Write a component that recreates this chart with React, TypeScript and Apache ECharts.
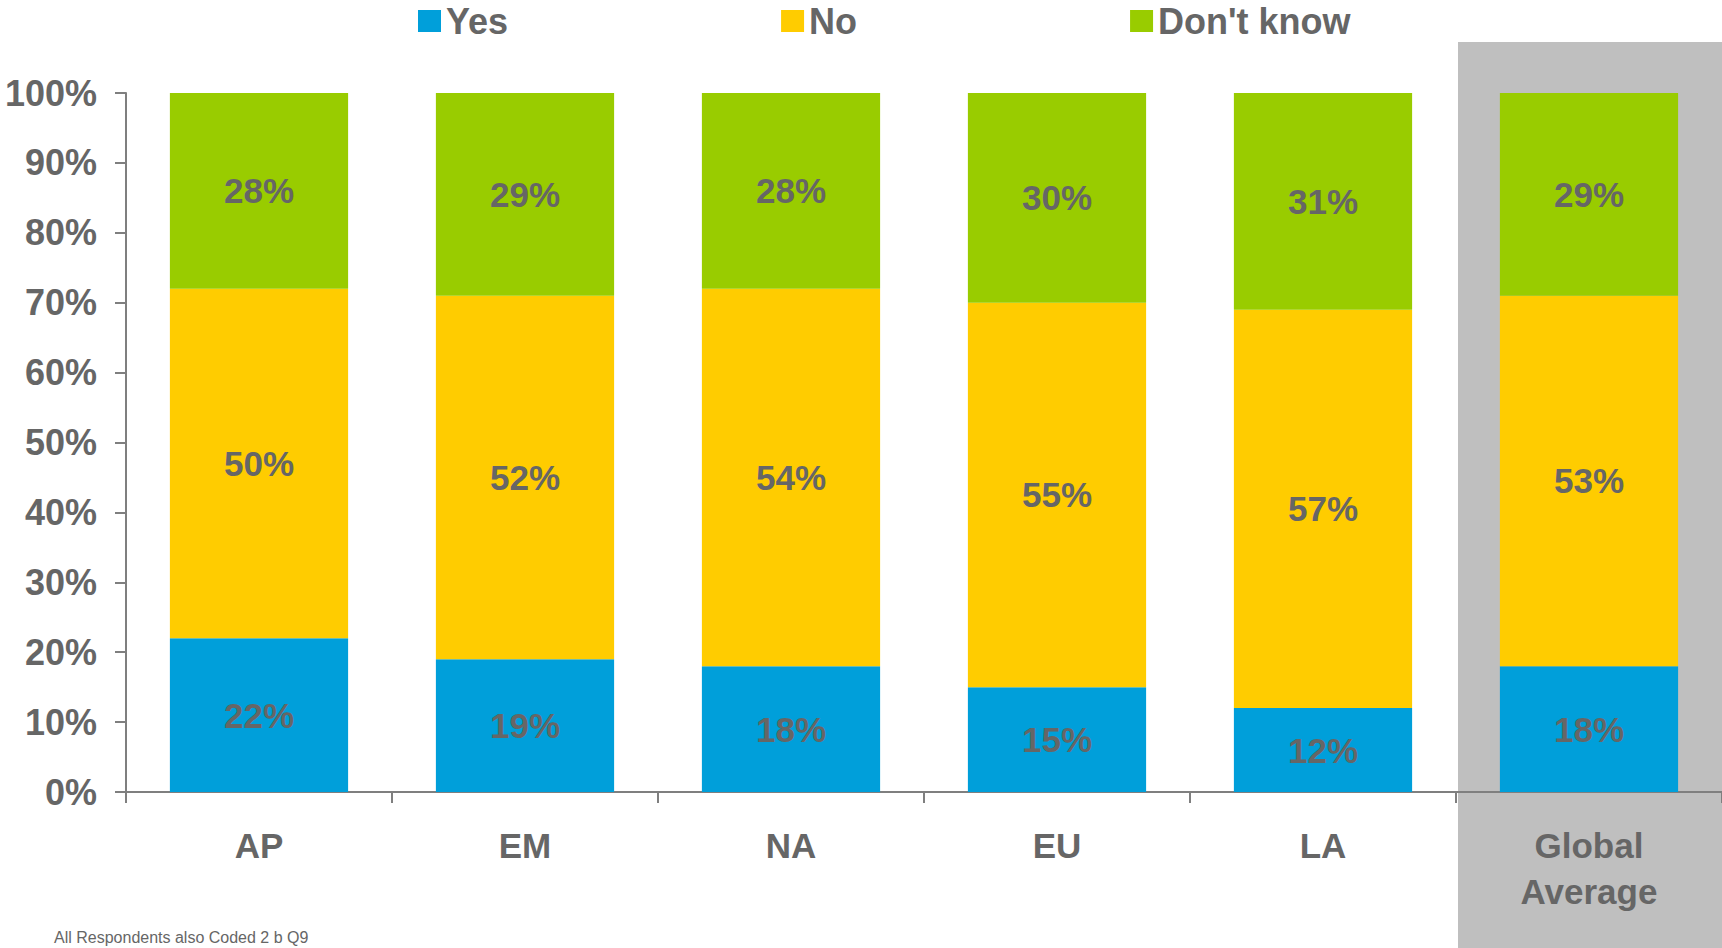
import React, { useEffect, useRef } from "react";
import * as echarts from "echarts";

const categories = ["AP", "EM", "NA", "EU", "LA", "Global\nAverage"];
const yesValues = [22, 19, 18, 15, 12, 18];
const noValues = [50, 52, 54, 55, 57, 53];
const dontKnowValues = [28, 29, 28, 30, 31, 29];
const seriesNames = ["Yes", "No", "Don't know"];
const seriesColors = ["#009FDA", "#FFCC00", "#99CC00"];
const footnote = "All Respondents also Coded 2 b Q9";

const FONT = "'Liberation Sans', Arial, sans-serif";
const TEXT = "#666666";
const AXIS = "#7F7F7F";

export default function App() {
  const ref = useRef<HTMLDivElement>(null);

  useEffect(() => {
    if (!ref.current) return;
    const chart = echarts.init(ref.current, null, { renderer: "svg" });
    const values = [yesValues, noValues, dontKnowValues];
    const option: any = {
      animation: false,
      textStyle: { fontFamily: FONT },
      legend: {
        data: seriesNames,
        left: 413,
        top: -2,
        itemWidth: 23,
        itemHeight: 22,
        itemGap: 273,
        icon: "rect",
        textStyle: { fontSize: 36, fontWeight: "bold", color: TEXT, fontFamily: FONT },
      },
      grid: { left: 126, right: 0, top: 93, bottom: 156, containLabel: false },
      xAxis: {
        type: "category",
        data: categories,
        axisLine: { show: true, lineStyle: { color: AXIS, width: 2 } },
        axisTick: { show: true, length: 11, lineStyle: { color: AXIS, width: 2 } },
        axisLabel: {
          fontSize: 35,
          fontWeight: "bold",
          color: TEXT,
          fontFamily: FONT,
          margin: 30,
          lineHeight: 46,
          interval: 0,
        },
      },
      yAxis: {
        type: "value",
        min: 0,
        max: 100,
        interval: 10,
        splitLine: { show: false },
        axisLine: { show: true, lineStyle: { color: AXIS, width: 2 } },
        axisTick: { show: true, length: 11, lineStyle: { color: AXIS, width: 2 } },
        axisLabel: {
          formatter: "{value}%",
          fontSize: 36,
          fontWeight: "bold",
          color: TEXT,
          fontFamily: FONT,
          margin: 29,
        },
      },
      series: seriesNames.map((name, i) => ({
        name,
        type: "bar",
        stack: "total",
        barWidth: "67%",
        data: values[i],
        itemStyle: { color: seriesColors[i] },
        label: {
          show: true,
          position: "inside",
          formatter: "{c}%",
          fontSize: 35,
          fontWeight: "bold",
          color: TEXT,
          fontFamily: FONT,
        },
      })),
    };
    chart.setOption(option);

    const n = categories.length;
    const cx = chart.convertToPixel({ xAxisIndex: 0 }, categories[n - 1]) as number;
    const x0 = chart.convertToPixel({ xAxisIndex: 0 }, categories[0]) as number;
    const x1 = chart.convertToPixel({ xAxisIndex: 0 }, categories[1]) as number;
    const bw = x1 - x0;
    const H = chart.getHeight();
    chart.setOption({
      graphic: [
        {
          type: "rect",
          z: -10,
          silent: true,
          shape: { x: cx - bw / 2 + 2, y: 42, width: bw, height: H - 42 },
          style: { fill: "#BFBFBF" },
        },
        {
          type: "text",
          left: 54,
          top: 929,
          style: { text: footnote, fill: TEXT, fontSize: 16, fontFamily: FONT },
        },
      ],
    });

    return () => chart.dispose();
  }, []);

  return (
    <div
      ref={ref}
      style={{ position: "absolute", left: 0, top: 0, width: 1722, height: 948, background: "#fff" }}
    />
  );
}
